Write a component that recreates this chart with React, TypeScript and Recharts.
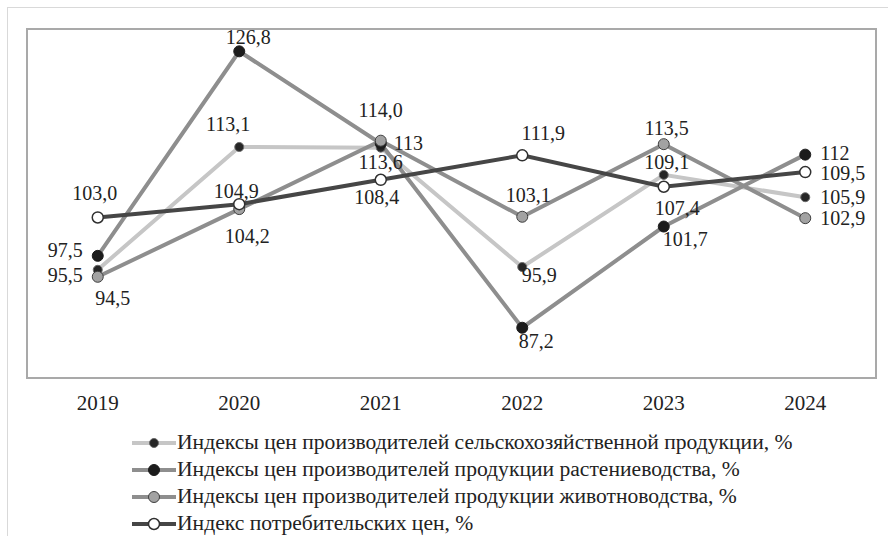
import React from "react";
import { LineChart, Line, XAxis, YAxis, LabelList, Legend, ReferenceArea } from "recharts";

// values as printed on the chart (comma decimals)
const years = ["2019", "2020", "2021", "2022", "2023", "2024"];
const agriText = ["95,5", "113,1", "113", "95,9", "109,1", "105,9"];
const cropText = ["97,5", "126,8", "113,6", "87,2", "101,7", "112"];
const livestockText = ["94,5", "104,2", "114,0", "103,1", "113,5", "102,9"];
const cpiText = ["103,0", "104,9", "108,4", "111,9", "107,4", "109,5"];

const num = (s: string) => parseFloat(s.replace(",", "."));

const rows = years.map((year, i) => ({
  year,
  agri: num(agriText[i]),
  crop: num(cropText[i]),
  livestock: num(livestockText[i]),
  cpi: num(cpiText[i]),
}));

const FONT = "'Liberation Serif', 'Times New Roman', serif";

type Place = [number, number, "start" | "middle" | "end"];

const series = [
  {
    key: "agri",
    name: "Индексы цен производителей сельскохозяйственной продукции, %",
    texts: agriText,
    line: "#c6c6c6",
    dot: { r: 4.5, fill: "#262626", stroke: "#6a6a6a", strokeWidth: 1 },
    places: [
      [-15, 5, "end"],
      [-11, -23, "middle"],
      [13, -5, "start"],
      [17, 8, "middle"],
      [3, -13, "middle"],
      [15, 0, "start"],
    ] as Place[],
  },
  {
    key: "crop",
    name: "Индексы цен производителей продукции растениеводства, %",
    texts: cropText,
    line: "#8e8e8e",
    dot: { r: 5.5, fill: "#1c1c1c", stroke: "#1c1c1c", strokeWidth: 1 },
    places: [
      [-15, -6, "end"],
      [9, -14, "middle"],
      [0, 19, "middle"],
      [14, 13, "middle"],
      [-1, 12, "start"],
      [15, -2, "start"],
    ] as Place[],
  },
  {
    key: "livestock",
    name: "Индексы цен производителей продукции животноводства, %",
    texts: livestockText,
    line: "#8e8e8e",
    dot: { r: 5.5, fill: "#a2a2a2", stroke: "#404040", strokeWidth: 1 },
    places: [
      [15, 21, "middle"],
      [8, 27, "middle"],
      [0, -31, "middle"],
      [6, -22, "middle"],
      [3, -16, "middle"],
      [15, 0, "start"],
    ] as Place[],
  },
  {
    key: "cpi",
    name: "Индекс потребительских цен, %",
    texts: cpiText,
    line: "#464646",
    dot: { r: 5.5, fill: "#ffffff", stroke: "#303030", strokeWidth: 1.5 },
    places: [
      [-3, -24, "middle"],
      [-3, -13, "middle"],
      [-4, 17, "middle"],
      [21, -22, "middle"],
      [-9, 21, "start"],
      [15, 1, "start"],
    ] as Place[],
  },
];

const makeLabel = (texts: string[], places: Place[]) => (props: any) => {
  const index: number = props.index ?? 0;
  const x = props.x ?? props.viewBox?.x;
  const y = props.y ?? props.viewBox?.y;
  if (x == null || y == null) return null;
  const [dx, dy, anchor] = places[index] || [0, -14, "middle"];
  return (
    <text
      x={x + dx}
      y={y + dy}
      textAnchor={anchor}
      dominantBaseline="central"
      fontFamily={FONT}
      fontSize={20}
      fill="#222"
    >
      {texts[index] ?? String(props.value).replace(".", ",")}
    </text>
  );
};

const renderLegend = () => (
  <div style={{ fontFamily: FONT, fontSize: 21.6, color: "#222" }}>
    {series.map((s) => (
      <div key={s.key} style={{ display: "flex", alignItems: "center", height: 27, whiteSpace: "nowrap" }}>
        <svg width={44} height={14}>
          <line x1={0} y1={7} x2={44} y2={7} stroke={s.line} strokeWidth={4} />
          <circle cx={22} cy={7} r={s.dot.r} fill={s.dot.fill} stroke={s.dot.stroke} strokeWidth={s.dot.strokeWidth} />
        </svg>
        <span style={{ marginLeft: 1 }}>{s.name}</span>
      </div>
    ))}
  </div>
);

export default function App() {
  return (
    <div style={{ position: "absolute", left: 0, top: 0, width: 888, height: 536, background: "#fff", overflow: "hidden" }}>
      <div style={{ position: "absolute", left: 7, top: 7, width: 900, height: 560, border: "1px solid #d9d9d9" }} />
      <div style={{ position: "absolute", left: 0, top: 0 }}>
        <LineChart width={888} height={536} data={rows} margin={{ top: 29, right: 12, left: 27, bottom: 128 }}>
          <XAxis
            dataKey="year"
            scale="band"
            axisLine={false}
            tickLine={false}
            tickMargin={11}
            height={30}
            tick={{ fontFamily: FONT, fontSize: 21, fill: "#222" }}
          />
          <YAxis hide domain={[80, 130]} type="number" allowDataOverflow />
          <ReferenceArea y1={80} y2={130} fill="none" fillOpacity={0} stroke="#a9a9a9" strokeWidth={2} ifOverflow="visible" />
          {series.map((s) => (
            <Line
              key={s.key}
              type="linear"
              dataKey={s.key}
              name={s.name}
              stroke={s.line}
              strokeWidth={4}
              dot={s.dot}
              activeDot={false}
              isAnimationActive={false}
            >
              <LabelList dataKey={s.key} content={makeLabel(s.texts, s.places)} />
            </Line>
          ))}
          <Legend
            layout="vertical"
            align="center"
            verticalAlign="middle"
            content={renderLegend}
            wrapperStyle={{ left: 132, top: 429, width: "auto" }}
          />
        </LineChart>
      </div>
    </div>
  );
}
